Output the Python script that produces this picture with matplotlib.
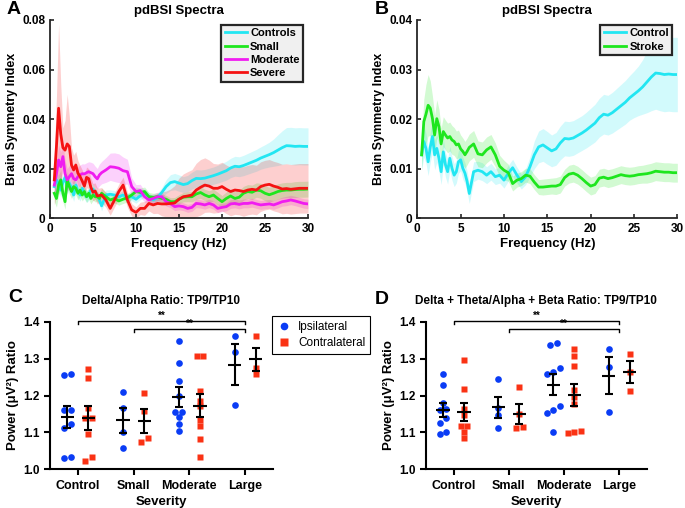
import numpy as np
import matplotlib
matplotlib.use('Agg')
import matplotlib.pyplot as plt
from matplotlib.lines import Line2D

plt.rcParams['font.family'] = ['Liberation Sans', 'DejaVu Sans']

# frequency grid of the spectra (finer below 6 Hz)
freq = np.concatenate([np.arange(0.5, 5.9, 0.25), np.arange(6.0, 30.01, 0.5)])

# pdBSI spectra: mean and SEM per group
control_mean = [0.0128, 0.0155, 0.0141, 0.0114, 0.0144, 0.0165, 0.0128, 0.0141, 0.0121, 0.0094, 0.0134,
                0.0108, 0.0094, 0.0121, 0.0101, 0.0087, 0.0094, 0.0114, 0.0118, 0.0101, 0.0091, 0.0074,
                0.0050, 0.0094, 0.0097, 0.0094, 0.0087, 0.0094, 0.0084, 0.0087, 0.0077, 0.0091, 0.0102,
                0.0087, 0.0074, 0.0084, 0.0104, 0.0128, 0.0144, 0.0148, 0.0142, 0.0136, 0.0140, 0.0152,
                0.0161, 0.0160, 0.0162, 0.0167, 0.0172, 0.0178, 0.0185, 0.0192, 0.0203, 0.0210, 0.0208,
                0.0213, 0.0220, 0.0227, 0.0234, 0.0243, 0.0250, 0.0257, 0.0265, 0.0275, 0.0285, 0.0293,
                0.0292, 0.0290, 0.0291, 0.0290, 0.0290]
control_sem = [0.0030, 0.0032, 0.0030, 0.0028, 0.0030, 0.0032, 0.0030, 0.0028, 0.0027, 0.0026, 0.0026,
               0.0025, 0.0025, 0.0024, 0.0024, 0.0023, 0.0023, 0.0023, 0.0022, 0.0022, 0.0021, 0.0021,
               0.0020, 0.0020, 0.0018, 0.0018, 0.0017, 0.0017, 0.0016, 0.0016, 0.0016, 0.0016, 0.0017,
               0.0016, 0.0015, 0.0016, 0.0020, 0.0028, 0.0032, 0.0033, 0.0033, 0.0032, 0.0033, 0.0034,
               0.0035, 0.0035, 0.0035, 0.0035, 0.0035, 0.0036, 0.0037, 0.0038, 0.0039, 0.0040, 0.0040,
               0.0041, 0.0042, 0.0043, 0.0044, 0.0045, 0.0047, 0.0050, 0.0055, 0.0062, 0.0068, 0.0073,
               0.0075, 0.0075, 0.0075, 0.0075, 0.0075]
stroke_mean = [0.0128, 0.0195, 0.0210, 0.0228, 0.0222, 0.0201, 0.0168, 0.0201, 0.0185, 0.0150, 0.0175,
               0.0168, 0.0162, 0.0165, 0.0158, 0.0155, 0.0148, 0.0150, 0.0140, 0.0135, 0.0128, 0.0135,
               0.0143, 0.0150, 0.0130, 0.0128, 0.0138, 0.0144, 0.0128, 0.0105, 0.0097, 0.0092, 0.0070,
               0.0077, 0.0080, 0.0087, 0.0085, 0.0073, 0.0063, 0.0063, 0.0064, 0.0065, 0.0065, 0.0068,
               0.0082, 0.0089, 0.0091, 0.0087, 0.0080, 0.0072, 0.0065, 0.0068, 0.0081, 0.0083, 0.0080,
               0.0082, 0.0085, 0.0088, 0.0086, 0.0085, 0.0086, 0.0088, 0.0089, 0.0090, 0.0092, 0.0095,
               0.0094, 0.0093, 0.0093, 0.0092, 0.0092]
stroke_sem = [0.0030, 0.0045, 0.0060, 0.0062, 0.0055, 0.0045, 0.0040, 0.0038, 0.0035, 0.0032, 0.0030,
              0.0030, 0.0030, 0.0029, 0.0029, 0.0028, 0.0028, 0.0028, 0.0028, 0.0027, 0.0027, 0.0027,
              0.0027, 0.0027, 0.0026, 0.0026, 0.0026, 0.0025, 0.0024, 0.0022, 0.0020, 0.0017, 0.0015,
              0.0014, 0.0014, 0.0014, 0.0015, 0.0015, 0.0015, 0.0016, 0.0016, 0.0016, 0.0017, 0.0017,
              0.0017, 0.0018, 0.0018, 0.0018, 0.0018, 0.0018, 0.0018, 0.0018, 0.0018, 0.0018, 0.0018,
              0.0018, 0.0018, 0.0018, 0.0018, 0.0018, 0.0018, 0.0018, 0.0018, 0.0019, 0.0019, 0.0019,
              0.0019, 0.0019, 0.0019, 0.0019, 0.0019]
small_mean = [0.0101, 0.0080, 0.0134, 0.0155, 0.0101, 0.0067, 0.0155, 0.0128, 0.0108, 0.0128, 0.0121,
              0.0101, 0.0114, 0.0094, 0.0108, 0.0087, 0.0101, 0.0080, 0.0094, 0.0087, 0.0087, 0.0080,
              0.0101, 0.0087, 0.0074, 0.0080, 0.0070, 0.0077, 0.0083, 0.0094, 0.0108, 0.0104, 0.0108,
              0.0087, 0.0085, 0.0087, 0.0080, 0.0077, 0.0067, 0.0067, 0.0077, 0.0085, 0.0087, 0.0087,
              0.0098, 0.0104, 0.0094, 0.0087, 0.0094, 0.0080, 0.0067, 0.0080, 0.0090, 0.0080, 0.0085,
              0.0101, 0.0108, 0.0105, 0.0114, 0.0111, 0.0101, 0.0095, 0.0101, 0.0108, 0.0112, 0.0114,
              0.0114, 0.0116, 0.0117, 0.0117, 0.0118]
small_sem = [0.0035, 0.0035, 0.0040, 0.0040, 0.0035, 0.0030, 0.0035, 0.0030, 0.0028, 0.0028, 0.0027,
             0.0026, 0.0025, 0.0024, 0.0024, 0.0023, 0.0022, 0.0022, 0.0021, 0.0021, 0.0020, 0.0020,
             0.0020, 0.0019, 0.0018, 0.0018, 0.0017, 0.0017, 0.0017, 0.0017, 0.0018, 0.0018, 0.0018,
             0.0017, 0.0016, 0.0016, 0.0016, 0.0016, 0.0016, 0.0017, 0.0018, 0.0019, 0.0020, 0.0021,
             0.0022, 0.0023, 0.0023, 0.0024, 0.0024, 0.0025, 0.0025, 0.0026, 0.0026, 0.0027, 0.0027,
             0.0028, 0.0028, 0.0029, 0.0029, 0.0030, 0.0030, 0.0030, 0.0030, 0.0031, 0.0031, 0.0031,
             0.0031, 0.0032, 0.0032, 0.0032, 0.0032]
moderate_mean = [0.0134, 0.0180, 0.0235, 0.0208, 0.0249, 0.0180, 0.0155, 0.0168, 0.0180, 0.0160, 0.0155,
                 0.0168, 0.0175, 0.0180, 0.0179, 0.0184, 0.0188, 0.0184, 0.0180, 0.0168, 0.0159, 0.0175,
                 0.0184, 0.0195, 0.0208, 0.0206, 0.0202, 0.0192, 0.0188, 0.0128, 0.0108, 0.0112, 0.0087,
                 0.0074, 0.0080, 0.0087, 0.0087, 0.0067, 0.0060, 0.0047, 0.0050, 0.0047, 0.0040, 0.0044,
                 0.0060, 0.0058, 0.0054, 0.0060, 0.0054, 0.0040, 0.0044, 0.0047, 0.0058, 0.0060, 0.0056,
                 0.0060, 0.0060, 0.0063, 0.0058, 0.0054, 0.0056, 0.0058, 0.0054, 0.0060, 0.0067, 0.0070,
                 0.0074, 0.0070, 0.0065, 0.0060, 0.0058]
moderate_sem = [0.0040, 0.0050, 0.0060, 0.0060, 0.0060, 0.0055, 0.0045, 0.0045, 0.0042, 0.0040, 0.0040,
                0.0040, 0.0040, 0.0040, 0.0040, 0.0040, 0.0040, 0.0042, 0.0042, 0.0042, 0.0042, 0.0044,
                0.0045, 0.0050, 0.0055, 0.0058, 0.0058, 0.0055, 0.0050, 0.0035, 0.0028, 0.0025, 0.0022,
                0.0020, 0.0018, 0.0018, 0.0018, 0.0017, 0.0017, 0.0016, 0.0016, 0.0016, 0.0016, 0.0016,
                0.0017, 0.0017, 0.0017, 0.0017, 0.0017, 0.0017, 0.0017, 0.0017, 0.0018, 0.0018, 0.0018,
                0.0018, 0.0018, 0.0018, 0.0018, 0.0018, 0.0018, 0.0018, 0.0018, 0.0018, 0.0018, 0.0019,
                0.0019, 0.0019, 0.0019, 0.0019, 0.0019]
severe_mean = [0.0155, 0.0290, 0.0444, 0.0340, 0.0285, 0.0275, 0.0300, 0.0290, 0.0215, 0.0195, 0.0215,
               0.0182, 0.0168, 0.0150, 0.0130, 0.0165, 0.0160, 0.0125, 0.0105, 0.0110, 0.0090, 0.0092,
               0.0094, 0.0074, 0.0040, 0.0074, 0.0108, 0.0134, 0.0074, 0.0034, 0.0024, 0.0040, 0.0040,
               0.0060, 0.0054, 0.0060, 0.0058, 0.0058, 0.0060, 0.0062, 0.0077, 0.0087, 0.0090, 0.0094,
               0.0114, 0.0125, 0.0134, 0.0130, 0.0121, 0.0121, 0.0128, 0.0117, 0.0108, 0.0114, 0.0112,
               0.0108, 0.0114, 0.0117, 0.0114, 0.0128, 0.0134, 0.0137, 0.0130, 0.0125, 0.0118, 0.0120,
               0.0117, 0.0119, 0.0121, 0.0121, 0.0121]
severe_sem = [0.0100, 0.0200, 0.0340, 0.0200, 0.0080, 0.0120, 0.0200, 0.0120, 0.0070, 0.0060, 0.0055,
              0.0050, 0.0045, 0.0045, 0.0042, 0.0042, 0.0040, 0.0038, 0.0035, 0.0033, 0.0032, 0.0030,
              0.0030, 0.0030, 0.0028, 0.0028, 0.0030, 0.0032, 0.0030, 0.0025, 0.0022, 0.0025, 0.0028,
              0.0030, 0.0035, 0.0040, 0.0048, 0.0052, 0.0058, 0.0070, 0.0085, 0.0092, 0.0098, 0.0102,
              0.0108, 0.0112, 0.0110, 0.0105, 0.0100, 0.0098, 0.0098, 0.0098, 0.0098, 0.0098, 0.0098,
              0.0100, 0.0100, 0.0100, 0.0100, 0.0100, 0.0100, 0.0100, 0.0100, 0.0100, 0.0100, 0.0100,
              0.0100, 0.0100, 0.0100, 0.0100, 0.0100]

# power ratio per severity group (ipsilateral / contralateral)
severity = ['Control', 'Small', 'Moderate', 'Large']
da_ipsi = [[1.258, 1.255, 1.162, 1.162, 1.122, 1.111, 1.030, 1.034],
           [1.209, 1.167, 1.100, 1.057],
           [1.347, 1.288, 1.239, 1.198, 1.156, 1.156, 1.142, 1.124, 1.103],
           [1.360, 1.317, 1.175]]
da_contra = [[1.247, 1.271, 1.166, 1.138, 1.140, 1.097, 1.022, 1.034],
             [1.207, 1.158, 1.075, 1.084],
             [1.308, 1.307, 1.212, 1.185, 1.171, 1.133, 1.118, 1.082, 1.034],
             [1.360, 1.275, 1.259]]
dtab_ipsi = [[1.258, 1.228, 1.179, 1.163, 1.161, 1.138, 1.125, 1.102, 1.096],
             [1.246, 1.167, 1.146, 1.111],
             [1.343, 1.338, 1.274, 1.265, 1.258, 1.172, 1.161, 1.152, 1.101],
             [1.326, 1.278, 1.156]]
dtab_contra = [[1.296, 1.217, 1.163, 1.147, 1.116, 1.116, 1.100, 1.086],
               [1.224, 1.150, 1.111, 1.114],
               [1.327, 1.307, 1.279, 1.215, 1.197, 1.177, 1.104, 1.102, 1.099],
               [1.313, 1.265, 1.212]]

cyan, green, magenta, red = '#22e6f2', '#1ee61e', '#f01cf0', '#f51212'
blue_pt, red_pt = '#0a3cf5', '#fa3214'


def spectrum(ax, mean, sem, color, label):
    mean = np.array(mean)
    sem = np.array(sem)
    ax.fill_between(freq, mean - sem, mean + sem, color=color, alpha=0.2, lw=0)
    ax.plot(freq, mean, color=color, lw=2, label=label)


def style_spectrum(ax, ymax, yticks, ylabels):
    ax.set_xlim(0, 30)
    ax.set_ylim(0, ymax)
    ax.set_xticks([0, 5, 10, 15, 20, 25, 30])
    ax.set_yticks(yticks)
    ax.set_yticklabels(ylabels)
    for s in ['top', 'right']:
        ax.spines[s].set_visible(False)
    for s in ['left', 'bottom']:
        ax.spines[s].set_linewidth(1.3)
        ax.spines[s].set_color('#262626')
    ax.tick_params(direction='in', length=3, width=1.2, labelsize=8.5, color='#262626')
    for t in ax.get_xticklabels() + ax.get_yticklabels():
        t.set_fontweight('bold')
    ax.set_title('pdBSI Spectra', fontsize=9.5, fontweight='bold', pad=4)
    ax.set_xlabel('Frequency (Hz)', fontsize=9.5, fontweight='bold', labelpad=2)
    ax.set_ylabel('Brain Symmetry Index', fontsize=9, fontweight='bold', labelpad=3)
    leg = ax.legend(loc='upper right', prop={'weight': 'bold', 'size': 8}, fancybox=False,
                    edgecolor='#262626', facecolor='#f0f0f0', framealpha=1, handlelength=2.0,
                    borderpad=0.3, labelspacing=0.3, handletextpad=0.3, borderaxespad=0.45)
    leg.get_frame().set_linewidth(1.6)


def swarm(vals, centre, step=0.12, thr=0.013):
    v = np.sort(np.asarray(vals))
    xs = np.zeros(len(v))
    i = 0
    while i < len(v):
        j = i
        while j + 1 < len(v) and v[j + 1] - v[j] < thr:
            j += 1
        k = j - i + 1
        xs[i:j + 1] = centre + (np.arange(k) - (k - 1) / 2) * step
        i = j + 1
    return xs, v


def severity_panel(ax, ipsi, contra, title):
    for i in range(len(severity)):
        for vals, off, mk, col, ms in [(ipsi[i], -0.19, 'o', blue_pt, 4.8), (contra[i], 0.19, 's', red_pt, 4.6)]:
            xs, v = swarm(vals, i + off)
            ax.plot(xs, v, mk, color=col, ms=ms, mec='none', zorder=2)
            m = np.mean(vals)
            s = np.std(vals, ddof=1) / np.sqrt(len(vals))
            ax.hlines(m, i + off - 0.12, i + off + 0.12, color='k', lw=1.5, zorder=3)
            ax.errorbar(i + off, m, yerr=s, fmt='none', ecolor='k', elinewidth=1.5,
                        capsize=3, capthick=1.5, zorder=3)
    for x0, y in [(0, 1.403), (1, 1.38)]:
        ax.plot([x0, x0, 3, 3], [y - 0.008, y, y, y - 0.008], color='k', lw=1, clip_on=False)
        ax.text((x0 + 3) / 2, y + 0.0005, '**', ha='center', va='bottom', fontsize=7, fontweight='bold')
    ax.set_xlim(-0.5, 3.5)
    ax.set_ylim(1.0, 1.4)
    ax.set_xticks(range(len(severity)))
    ax.set_xticklabels(severity)
    ax.set_yticks([1.0, 1.1, 1.2, 1.3, 1.4])
    ax.set_yticklabels(['1.0', '1.1', '1.2', '1.3', '1.4'])
    for s in ['top', 'right']:
        ax.spines[s].set_visible(False)
    for s in ['left', 'bottom']:
        ax.spines[s].set_linewidth(1.5)
    ax.tick_params(axis='x', direction='out', length=4, width=1.5, labelsize=9)
    ax.tick_params(axis='y', direction='out', length=4, width=1.5, labelsize=8.5)
    for t in ax.get_xticklabels() + ax.get_yticklabels():
        t.set_fontweight('bold')
    ax.set_title(title, fontsize=8.5, fontweight='bold', pad=13)
    ax.set_xlabel('Severity', fontsize=9.5, fontweight='bold', labelpad=3)
    ax.set_ylabel('Power (μV²) Ratio', fontsize=9.5, fontweight='bold', labelpad=3)


fig = plt.figure(figsize=(6.85, 5.08), dpi=100)
W, H = 685, 508


def axes_px(x0, x1, ytop, ybot):
    return fig.add_axes([x0 / W, 1 - ybot / H, (x1 - x0) / W, (ybot - ytop) / H])


axA = axes_px(50, 308, 20, 218.3)
spectrum(axA, control_mean, control_sem, cyan, 'Controls')
spectrum(axA, small_mean, small_sem, green, 'Small')
spectrum(axA, moderate_mean, moderate_sem, magenta, 'Moderate')
spectrum(axA, severe_mean, severe_sem, red, 'Severe')
style_spectrum(axA, 0.08, [0, 0.02, 0.04, 0.06, 0.08], ['0', '0.02', '0.04', '0.06', '0.08'])

axB = axes_px(417.3, 677.3, 20, 218.3)
spectrum(axB, control_mean, control_sem, cyan, 'Control')
spectrum(axB, stroke_mean, stroke_sem, green, 'Stroke')
style_spectrum(axB, 0.04, [0, 0.01, 0.02, 0.03, 0.04], ['0', '0.01', '0.02', '0.03', '0.04'])

axC = axes_px(50, 273, 321.7, 469.3)
severity_panel(axC, da_ipsi, da_contra, 'Delta/Alpha Ratio: TP9/TP10')

axD = axes_px(426, 646.7, 321.7, 469.3)
severity_panel(axD, dtab_ipsi, dtab_contra, 'Delta + Theta/Alpha + Beta Ratio: TP9/TP10')

handles = [Line2D([], [], marker='o', ls='none', color=blue_pt, mec='none', ms=5.5),
           Line2D([], [], marker='s', ls='none', color=red_pt, mec='none', ms=5.2)]
leg = fig.legend(handles, ['Ipsilateral', 'Contralateral'], loc='upper left',
                 bbox_to_anchor=(272 / W, 1 - 316 / H), fontsize=8.5, fancybox=False,
                 edgecolor='k', framealpha=1, handlelength=1.2, handletextpad=0.6,
                 borderpad=0.4, labelspacing=0.35, borderaxespad=0)
leg.get_frame().set_linewidth(0.8)

for letter, x, y in [('A', 14, 10), ('B', 382, 10), ('C', 15, 298), ('D', 382, 299)]:
    fig.text(x / W, 1 - y / H, letter, fontsize=14, fontweight='bold', ha='center', va='center')

fig.savefig('out.png', dpi=100)
